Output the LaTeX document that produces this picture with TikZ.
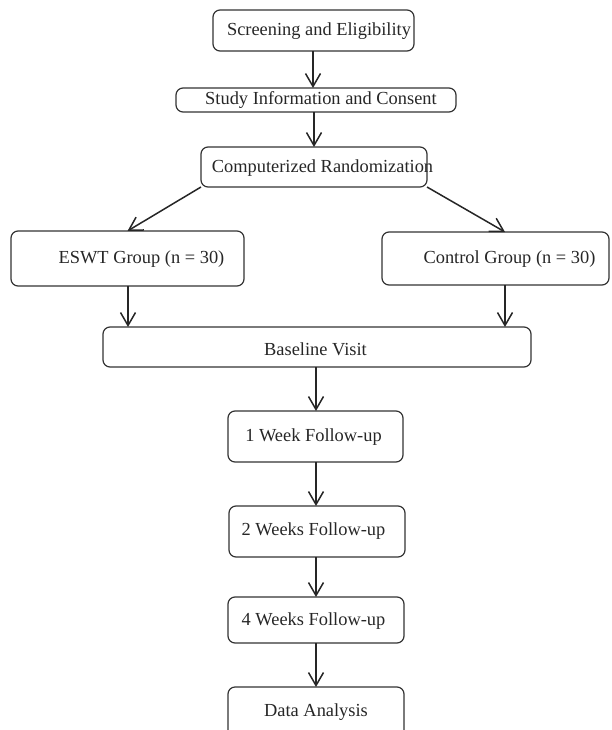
\documentclass[tikz,border=0pt]{standalone}
\usepackage{fontspec}
\setmainfont{Liberation Serif}
\usetikzlibrary{arrows.meta}
\begin{document}
\begin{tikzpicture}[x=1pt,y=-1pt,
  box/.style={draw=black!80, line width=1.2pt, rounded corners=7pt, inner sep=0pt, outer sep=0pt},
  txt/.style={inner sep=0pt, font=\fontsize{18.4}{22}\selectfont, text=black!85},
  arr/.style={draw=black!85, line width=1.5pt, -{Straight Barb[length=13pt,width=15pt,line width=1.5pt]}}]
\useasboundingbox (0,0) rectangle (611,730);
\clip (0,0) rectangle (611,730);
% boxes
\node[box, minimum width=201pt, minimum height=41pt] (scr) at (313.5,30.5) {};
\node[box, minimum width=280pt, minimum height=24pt] (study) at (316,100) {};
\node[box, minimum width=226pt, minimum height=40pt] (comp) at (314,167) {};
\node[box, minimum width=233pt, minimum height=55pt] (eswt) at (127.5,258.5) {};
\node[box, minimum width=227pt, minimum height=53pt] (ctrl) at (495.5,258.5) {};
\node[box, minimum width=428pt, minimum height=40pt] (base) at (317,347) {};
\node[box, minimum width=175pt, minimum height=51pt] (w1) at (315.5,436.5) {};
\node[box, minimum width=176pt, minimum height=51pt] (w2) at (317,531.5) {};
\node[box, minimum width=176pt, minimum height=46pt] (w4) at (316,620) {};
\node[box, minimum width=176pt, minimum height=60pt] (data) at (316,717) {};
% texts
\node[txt] (scrT) at (319,31) {Screening and Eligibility};
\node[txt] (studyT) at (321,100) {Study Information and Consent};
\node[txt] (compT) at (322.5,168) {Computerized Randomization};
\node[txt] (eswtT) at (141.5,259) {ESWT Group (n = 30)};
\node[txt] (ctrlT) at (509.5,259) {Control Group (n = 30)};
\node[txt] (baseT) at (315.5,349) {Baseline Visit};
\node[txt] (w1T) at (313.5,437) {1 Week Follow-up};
\node[txt] (w2T) at (313.5,531) {2 Weeks Follow-up};
\node[txt] (w4T) at (313.5,621) {4 Weeks Follow-up};
\node[txt] (dataT) at (316,712) {Data Analysis};
% connector columns
\coordinate (c1) at (313,0);
\coordinate (c2) at (314,0);
\coordinate (cL) at (128,0);
\coordinate (cR) at (505,0);
\coordinate (cM) at (316,0);
% connectors
\draw[arr] (scr.south -| c1) -- (study.north -| c1);
\draw[arr] (study.south -| c2) -- (comp.north -| c2);
\draw[arr] (comp.south west) -- (eswt.north);
\draw[arr] (comp.south east) -- (ctrl.north -| cR);
\draw[arr] (eswt.south -| cL) -- (base.north -| cL);
\draw[arr] (ctrl.south -| cR) -- (base.north -| cR);
\draw[arr] (base.south -| cM) -- (w1.north -| cM);
\draw[arr] (w1.south -| cM) -- (w2.north -| cM);
\draw[arr] (w2.south -| cM) -- (w4.north -| cM);
\draw[arr] (w4.south -| cM) -- (data.north -| cM);
\end{tikzpicture}
\end{document}
